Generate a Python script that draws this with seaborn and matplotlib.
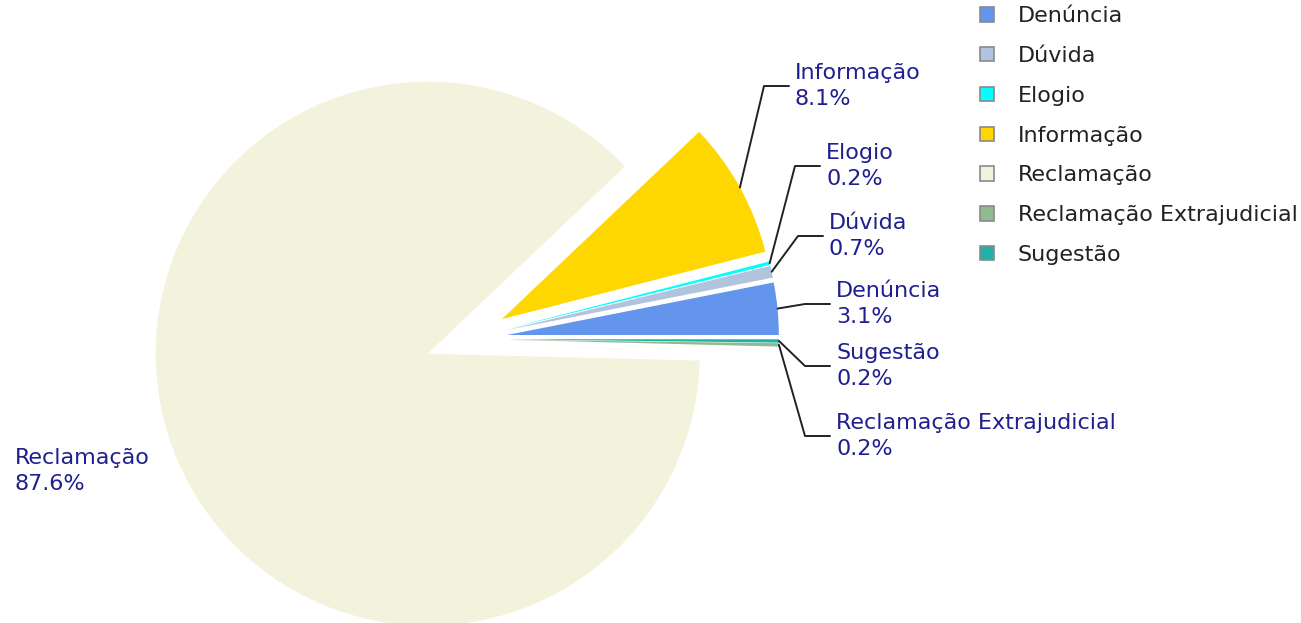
import numpy as np
import matplotlib
matplotlib.use("Agg")
import matplotlib.pyplot as plt
import matplotlib.patches as mpatches
import seaborn as sns

# Data
categories = ["Denúncia", "Dúvida", "Elogio", "Informação", "Reclamação",
              "Reclamação Extrajudicial", "Sugestão"]
percentages = [3.1, 0.7, 0.2, 8.1, 87.6, 0.2, 0.2]
slice_colors = ["#6495ED", "#B0C4DE", "#00FFFF", "#FFD700", "#F3F3DD",
                "#8FBC8F", "#20B2AA"]

# label anchor (left x, center y) in pixel coords, y measured from top
label_pos = [(836, 304), (829, 236), (826, 166), (795, 86), (15, 471),
             (836, 436), (836, 366)]
LABEL_COLOR = "#1f1f8f"

W, H = 1301, 623
sns.set_theme(style="white")
plt.rcParams["font.family"] = ["DejaVu Sans"]

fig = plt.figure(figsize=(W / 100, H / 100), dpi=100)
ax = fig.add_axes([0, 0, 1, 1])

palette = sns.color_palette(slice_colors)
wedges, _ = ax.pie(percentages, colors=palette, startangle=0, counterclock=True,
                   explode=[41] * len(percentages), radius=272,
                   center=(466, H - 339), wedgeprops=dict(linewidth=0))
ax.set_xlim(0, W)
ax.set_ylim(0, H)
ax.set_aspect("equal")
ax.axis("off")

for w, name, pct, (lx, ly) in zip(wedges, categories, percentages, label_pos):
    ty = H - ly
    ax.text(lx, ty, f"{name}\n{pct:.1f}%", ha="left", va="center",
            color=LABEL_COLOR, fontsize=16, linespacing=1.42)
    if name == "Reclamação":
        continue
    mid = np.deg2rad((w.theta1 + w.theta2) / 2)
    cx, cy = w.center
    sx = cx + w.r * np.cos(mid)
    sy = cy + w.r * np.sin(mid)
    ax.plot([sx, lx - 31, lx - 6], [sy, ty, ty], color="#222222", lw=1.4)

handles = [mpatches.Patch(facecolor=c, edgecolor="#8a8a8a", linewidth=1.2)
           for c in slice_colors]
fig.legend(handles, categories, loc="upper left", bbox_to_anchor=(960 / W, 1.022),
           frameon=False, fontsize=16, handlelength=0.62, handleheight=0.62,
           handletextpad=1.08, labelspacing=0.89, labelcolor="#222222")

fig.savefig("out.png", dpi=100)
